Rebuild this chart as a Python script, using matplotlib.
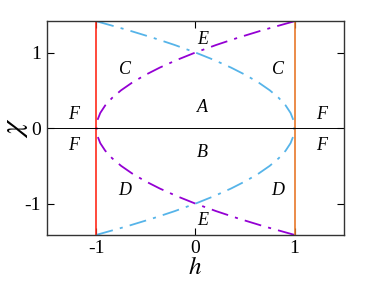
import matplotlib.pyplot as plt

# values
chi = [-1.414, -1.3, -1.2, -1.1, -1.0, -0.9, -0.8, -0.7, -0.6, -0.5, -0.4, -0.3, -0.2, -0.1, 0.0,
       0.1, 0.2, 0.3, 0.4, 0.5, 0.6, 0.7, 0.8, 0.9, 1.0, 1.1, 1.2, 1.3, 1.414]
h_purple = [1.0, 0.69, 0.44, 0.21, 0.0, -0.19, -0.36, -0.51, -0.64, -0.75, -0.84, -0.91, -0.96, -0.99, -1.0,
            -0.99, -0.96, -0.91, -0.84, -0.75, -0.64, -0.51, -0.36, -0.19, 0.0, 0.21, 0.44, 0.69, 1.0]
h_blue = [-1.0, -0.69, -0.44, -0.21, 0.0, 0.19, 0.36, 0.51, 0.64, 0.75, 0.84, 0.91, 0.96, 0.99, 1.0,
          0.99, 0.96, 0.91, 0.84, 0.75, 0.64, 0.51, 0.36, 0.19, 0.0, -0.21, -0.44, -0.69, -1.0]
h_walls = [-1, 1]
wall_colors = ['#ff2a1a', '#e8782a']

region_labels = ['E', 'C', 'C', 'A', 'F', 'F', 'F', 'F', 'B', 'D', 'D', 'E']
label_h = [0.07, -0.71, 0.83, 0.07, -1.23, -1.23, 1.27, 1.27, 0.07, -0.71, 0.83, 0.07]
label_chi = [1.17, 0.78, 0.78, 0.27, 0.18, -0.23, 0.18, -0.23, -0.32, -0.82, -0.82, -1.22]

plt.rcParams['font.family'] = ['Liberation Serif', 'DejaVu Serif']
plt.rcParams['mathtext.fontset'] = 'stix'

fig = plt.figure(figsize=(3.74, 2.83), dpi=100)
ax = fig.add_axes([0.125, 0.17, 0.795, 0.755])

dashdot = (0, (9.5, 4, 1.7, 4))
ax.plot(h_purple, chi, color='#9400d3', lw=1.3, linestyle=dashdot)
ax.plot(h_blue, chi, color='#56b4e9', lw=1.3, linestyle=dashdot)
for hw, c in zip(h_walls, wall_colors):
    ax.axvline(hw, color=c, lw=1.2)
ax.axhline(0, color='black', lw=0.7)

for t, x, y in zip(region_labels, label_h, label_chi):
    ax.text(x, y, t, fontsize=13, style='italic', ha='center', va='center')

ax.set_xlim(-1.5, 1.5)
ax.set_ylim(-1.414, 1.414)
ax.set_xticks([-1, 0, 1])
ax.set_yticks([-1, 0, 1])
ax.set_xticklabels(['-1', '0', '1'])
ax.set_yticklabels(['-1', '0', '1'])
ax.tick_params(direction='in', length=5, width=0.8, labelsize=14, top=True, right=True, pad=4)
for s in ax.spines.values():
    s.set_linewidth(1.0)
    s.set_color('#333333')

ax.set_xlabel('$h$', fontsize=18, labelpad=0)
ax.set_ylabel('$\\chi$', fontsize=22, labelpad=-4)

plt.savefig('out.png', dpi=100)
